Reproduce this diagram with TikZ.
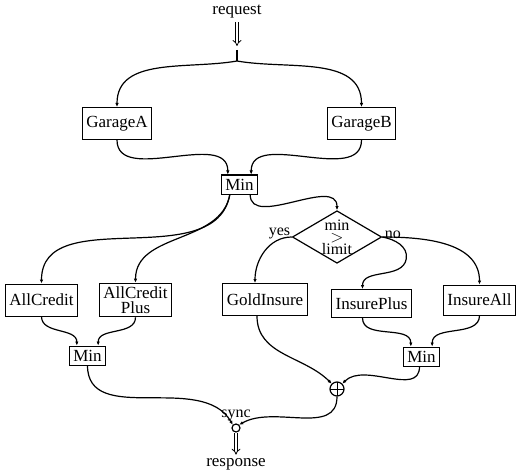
\documentclass[tikz,border=0pt]{standalone}
\usepackage{fontspec}
\setmainfont{Liberation Serif}
\usetikzlibrary{arrows.meta, positioning, calc, shapes.geometric}

\begin{document}
\begin{tikzpicture}[
  x=1pt, y=-1pt,
  font=\fontsize{17}{17}\selectfont,
  flow/.style={-{Latex[length=4pt,width=3.5pt]}, line width=1.2pt},
  plain/.style={line width=1.2pt},
  dblarrow/.style={double, double distance=2.2pt, line width=0.8pt, -{Implies[length=7pt]}},
  service_box/.style={draw, rectangle, line width=1pt, minimum height=32pt, inner xsep=4pt, align=center},
  min_box/.style={draw, rectangle, line width=1pt, inner xsep=4pt, inner ysep=2pt, minimum height=19pt},
  choice_box/.style={draw, diamond, aspect=1.7, line width=1.2pt, minimum width=75pt, minimum height=44pt, inner sep=0pt, align=center, font=\fontsize{16}{16}\selectfont},
  label_text/.style={font=\fontsize{16}{16}\selectfont}
]
  \useasboundingbox (0,0) rectangle (516,473);

  % Request entry
  \node (request) at (237,12) {request};
  \coordinate (tick) at (237,50);
  \coordinate (fork) at (237,61);
  \draw[dblarrow] (request.south) -- (237,46);
  \draw[plain] (tick) -- (fork);

  % Garages
  \node (garageA) [service_box] at (117,123.5) {GarageA};
  \node (garageB) [service_box] at (361.5,123.5) {GarageB};
  \node (min1) [min_box] at (239.5,184.5) {Min};

  % Choice
  \node (check) [choice_box] at (337,237) {min\\[-4pt]$>$\\[-4pt]limit};
  \node [label_text, above left=-5pt and -2pt of check.west] {yes};
  \node [label_text, above right=-5pt and -1pt of check.east] {no};
  \coordinate (bend) at ($(check.east)+(24,22)$);

  % Credit and insurance services
  \node (allCredit) [service_box] at (41.5,300) {AllCredit};
  \node (allCreditPlus) [service_box] at (135.5,300) {AllCredit\\[-2pt]Plus};
  \node (goldInsure) [service_box] at (265,299.5) {GoldInsure};
  \node (insurePlus) [service_box, minimum height=28pt] at (371.5,303.5) {InsurePlus};
  \node (insureAll) [service_box, minimum height=30pt] at (479.5,300) {InsureAll};
  \node (min2) [min_box] at (87.5,355.5) {Min};
  \node (min3) [min_box] at (421.5,356.5) {Min};

  % Joins
  \node (oplus) [draw, circle, line width=1.2pt, minimum size=14pt, inner sep=0pt,
    path picture={\draw[line width=1pt] (path picture bounding box.north) -- (path picture bounding box.south)
      (path picture bounding box.west) -- (path picture bounding box.east);}] at (337,389) {};
  \node (sync) [draw, circle, line width=1.2pt, minimum size=8pt, inner sep=0pt] at (236,428) {};
  \node [label_text, above=-1pt of sync] {sync};
  \node (response) at (236,464) {response};
  \draw[dblarrow] (sync.south) -- (response.north);

  % Connections
  \draw[flow] (fork) to[out=190, in=90] (garageA.north);
  \draw[flow] (fork) to[out=-10, in=90] (garageB.north);
  \draw[flow] (garageA.south) to[out=-90, in=90] ($(min1.north west)+(7,0)$);
  \draw[flow] (garageB.south) to[out=-90, in=90] ($(min1.north east)+(-7,0)$);
  \draw[flow] ($(min1.south west)+(9,0)$) to[out=-100, in=90] (allCredit.north);
  \draw[flow] ($(min1.south west)+(9,0)$) to[out=-100, in=90] (allCreditPlus.north);
  \draw[flow] ($(min1.south east)+(-8,0)$) to[out=-90, in=90] (check.north);
  \draw[flow] (check.west) to[out=180, in=90] ($(goldInsure.north)+(-10,0)$);
  \draw[flow] (check.east) to[out=-10, in=80] (bend) to[out=-100, in=90] ($(insurePlus.north)+(-9,0)$);
  \draw[flow] (check.east) to[out=0, in=90] (insureAll.north);
  \draw[flow] (allCredit.south) to[out=-90, in=90] ($(min2.north west)+(8,0)$);
  \draw[flow] (allCreditPlus.south) to[out=-90, in=90] ($(min2.north east)+(-8,0)$);
  \draw[flow] ($(insurePlus.south)+(-9,0)$) to[out=-90, in=90] ($(min3.north west)+(8,0)$);
  \draw[flow] (insureAll.south) to[out=-90, in=90] ($(min3.north east)+(-8,0)$);
  \draw[flow] ($(goldInsure.south)+(-8,0)$) to[out=-90, in=135] (oplus.north west);
  \draw[flow] ($(min3.south)+(-2,0)$) to[out=-90, in=45] (oplus.north east);
  \draw[flow] (min2.south) to[out=-90, in=120] (sync.north west);
  \draw[flow] (oplus.south) to[out=-90, in=30] (sync.north east);

\end{tikzpicture}
\end{document}
